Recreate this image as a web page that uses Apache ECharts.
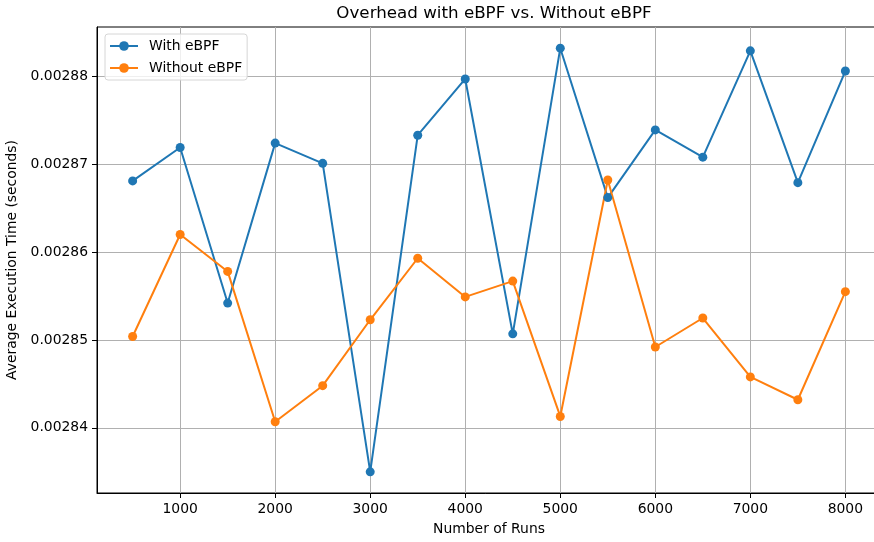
<!DOCTYPE html>
<html>
<head>
<meta charset="utf-8">
<script src="https://cdn.jsdelivr.net/npm/echarts@6/dist/echarts.min.js"></script>
<style>
  html, body { margin: 0; padding: 0; background: #fff; }
  #chart { width: 874px; height: 542px; }
</style>
</head>
<body>
<div id="chart"></div>
<script>
// Number of runs per measurement
const runs = [500, 1000, 1500, 2000, 2500, 3000, 3500, 4000, 4500, 5000, 5500, 6000, 6500, 7000, 7500, 8000];

// Average execution time (seconds)
const withEbpf = [0.0028681, 0.0028719, 0.0028542, 0.0028724, 0.0028701, 0.0028350, 0.0028733, 0.0028797,
                  0.0028507, 0.0028832, 0.0028662, 0.0028739, 0.0028708, 0.0028829, 0.0028679, 0.0028806];
const withoutEbpf = [0.0028504, 0.0028620, 0.0028578, 0.0028407, 0.0028448, 0.0028523, 0.0028593, 0.0028549,
                     0.0028567, 0.0028413, 0.0028682, 0.0028492, 0.0028525, 0.0028458, 0.0028432, 0.0028555];

// Tick positions
const xTicks = [1000, 2000, 3000, 4000, 5000, 6000, 7000, 8000];
const yTicks = [0.00284, 0.00285, 0.00286, 0.00287, 0.00288];

// Axis limits with a 5% margin around the data
function padded(vals) {
  const lo = Math.min(...vals), hi = Math.max(...vals);
  const m = (hi - lo) * 0.05;
  return [lo - m, hi + m];
}
const [xMin, xMax] = padded(runs);
const [yMin, yMax] = padded(withEbpf.concat(withoutEbpf));

const FONT = 'DejaVu Sans';
const chart = echarts.init(document.getElementById('chart'), null, { renderer: 'canvas' });

function seriesOf(name, vals, color) {
  return {
    name: name,
    type: 'line',
    data: runs.map((r, i) => [r, vals[i]]),
    symbol: 'circle',
    symbolSize: 9,
    showSymbol: true,
    lineStyle: { color: color, width: 2 },
    itemStyle: { color: color },
    emphasis: { disabled: true },
    animation: false,
    z: 3
  };
}

chart.setOption({
  animation: false,
  backgroundColor: '#fff',
  title: {
    text: 'Overhead with eBPF vs. Without eBPF',
    left: 489,
    textAlign: 'center',
    top: 0,
    textStyle: { fontFamily: FONT, fontSize: 16.7, fontWeight: 'normal', color: '#000' }
  },
  legend: {
    orient: 'vertical',
    left: 105,
    top: 34,
    itemWidth: 28,
    itemHeight: 12,
    itemGap: 8,
    padding: [5, 5, 5, 4],
    backgroundColor: 'rgba(255,255,255,0.8)',
    borderColor: '#d6d6d6',
    borderWidth: 1,
    borderRadius: 3,
    textStyle: { fontFamily: FONT, fontSize: 13.9, color: '#000', padding: [0, 0, 0, 6] },
    data: ['With eBPF', 'Without eBPF']
  },
  grid: {
    left: 97,
    top: 27,
    right: -7,
    bottom: 49,
    outerBoundsMode: 'none',
    containLabel: false,
    show: true,
    borderColor: '#000',
    borderWidth: 1,
    backgroundColor: 'transparent'
  },
  xAxis: {
    type: 'value',
    min: xMin,
    max: xMax,
    name: 'Number of Runs',
    nameLocation: 'middle',
    nameGap: 29,
    nameTextStyle: { fontFamily: FONT, fontSize: 13.9, color: '#000' },
    axisLine: { show: true, onZero: false, lineStyle: { color: '#000', width: 1 } },
    axisTick: { show: true, inside: false, length: 5, customValues: xTicks, lineStyle: { color: '#000' } },
    axisLabel: {
      customValues: xTicks,
      fontFamily: FONT, fontSize: 13.9, color: '#000', margin: 9,
      formatter: v => String(Math.round(v))
    },
    splitLine: { show: true, lineStyle: { color: '#b0b0b0', width: 1 } }
  },
  yAxis: {
    type: 'value',
    min: yMin,
    max: yMax,
    name: 'Average Execution Time (seconds)',
    nameLocation: 'middle',
    nameGap: 71,
    nameRotate: 90,
    nameTextStyle: { fontFamily: FONT, fontSize: 13.9, color: '#000' },
    axisLine: { show: true, onZero: false, lineStyle: { color: '#000', width: 1 } },
    axisTick: { show: true, inside: false, length: 5, customValues: yTicks, lineStyle: { color: '#000' } },
    axisLabel: {
      customValues: yTicks,
      fontFamily: FONT, fontSize: 13.9, color: '#000', margin: 9,
      formatter: v => v.toFixed(5)
    },
    splitLine: { show: true, lineStyle: { color: '#b0b0b0', width: 1 } }
  },
  series: [
    seriesOf('With eBPF', withEbpf, '#1f77b4'),
    seriesOf('Without eBPF', withoutEbpf, '#ff7f0e')
  ]
});
</script>
</body>
</html>
